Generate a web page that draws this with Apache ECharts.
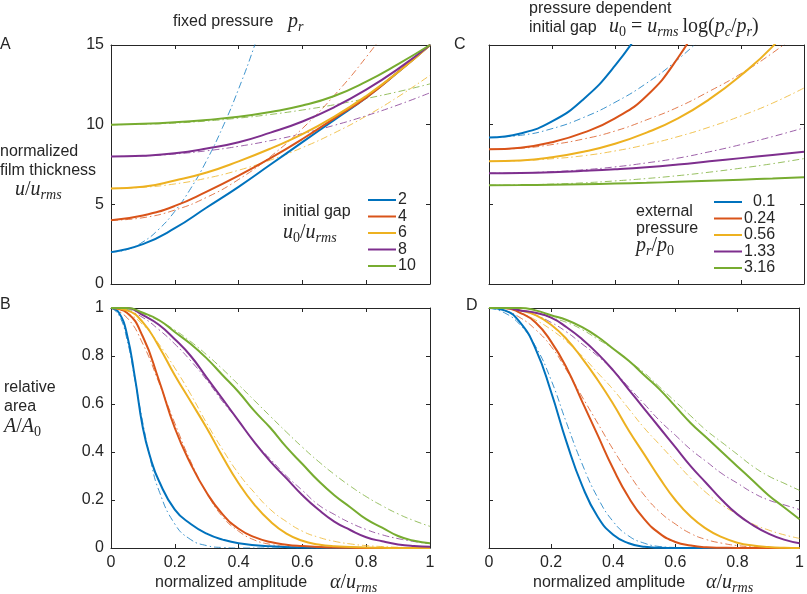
<!DOCTYPE html>
<html><head><meta charset="utf-8">
<script src="https://cdn.jsdelivr.net/npm/echarts@6/dist/echarts.min.js"></script>
<style>html,body{margin:0;padding:0;background:#fff}#c{width:807px;height:594px}</style>
</head><body><div id="c"></div>
<script>
// ---------- data ----------
const alpha10 = [0,0.1,0.2,0.3,0.4,0.5,0.6,0.7,0.8,0.9,1.0];
const alpha20 = [0,0.05,0.1,0.15,0.2,0.25,0.3,0.35,0.4,0.45,0.5,0.55,0.6,0.65,0.7,0.75,0.8,0.85,0.9,0.95,1.0];
const alphaFine = [0,0.025,0.05,0.075,0.1,0.125,0.15,0.2,0.25,0.3,0.35,0.4,0.5,0.6,0.8,1.0];

const gapNames = ['2','4','6','8','10'];
const pressNames = ['0.1','0.24','0.56','1.33','3.16'];

// Panel A: film thickness, fixed pressure (solid)
const uA2  = [2,2.5,3.5,4.8,6.1,7.5,8.9,10.3,11.7,13.3,15];
const uA4  = [4,4.3,4.9,5.8,6.8,7.9,9.1,10.4,11.7,13.3,15];
const uA6  = [6,6.1,6.5,7.0,7.7,8.5,9.4,10.5,11.8,13.3,15];
const uA8  = [8,8.05,8.2,8.5,8.9,9.5,10.2,11.1,12.2,13.5,15];
const uA10 = [10,10.05,10.15,10.3,10.5,10.8,11.2,11.8,12.7,13.8,15];
// Panel A dash-dot
const uA2d  = [2,2.16,2.64,3.44,4.56,6,7.76,9.84,12.24,14.96,18.0]; // on alpha20 (0..0.5)
const uA4d  = [4,4.16,4.64,5.44,6.56,8,9.76,11.84,14.24,16.96,20];
const uA6d  = [6,6.07,6.28,6.64,7.14,7.78,8.56,9.48,10.54,11.75,13.1];
const uA8d  = [8,8.04,8.16,8.36,8.64,9,9.44,9.96,10.56,11.24,12];
const uA10d = [10,10.03,10.1,10.23,10.41,10.64,10.92,11.25,11.64,12.07,12.56];

// Panel B: relative area, fixed pressure
const aB2  = [1,0.98,0.89,0.71,0.5,0.37,0.28,0.16,0.1,0.06,0.035,0.02,0.007,0.002,0,0]; // alphaFine
const aB2d = [1,0.97,0.87,0.7,0.52,0.36,0.24,0.1,0.035,0.01,0.002,0,0,0,0,0];          // alphaFine
const aB4  = [1,0.98,0.88,0.7,0.5,0.35,0.23,0.14,0.08,0.045,0.025,0.014,0.008,0.004,0.002,0.001,0,0,0,0,0];
const aB4d = [1,0.96,0.85,0.69,0.52,0.36,0.23,0.13,0.07,0.033,0.015,0.006,0.002,0,0,0,0,0,0,0,0];
const aB6  = [1,0.99,0.94,0.84,0.72,0.61,0.5,0.38,0.27,0.18,0.11,0.06,0.03,0.015,0.007,0.004,0.002,0.001,0,0,0];
const aB6d = [1,0.98,0.93,0.85,0.75,0.64,0.52,0.41,0.31,0.23,0.16,0.11,0.07,0.045,0.028,0.017,0.01,0.006,0.003,0.002,0.001];
const aB8  = [1,1,0.97,0.93,0.87,0.8,0.71,0.62,0.53,0.44,0.36,0.29,0.22,0.16,0.11,0.075,0.045,0.028,0.015,0.008,0.005];
const aB8d = [1,0.99,0.96,0.91,0.85,0.78,0.7,0.61,0.53,0.44,0.37,0.3,0.24,0.18,0.14,0.105,0.077,0.055,0.039,0.027,0.018];
const aB10 = [1,1,0.98,0.95,0.9,0.85,0.79,0.72,0.65,0.57,0.5,0.42,0.35,0.28,0.22,0.17,0.12,0.085,0.05,0.03,0.02];
const aB10d= [1,0.994,0.976,0.947,0.908,0.86,0.805,0.745,0.68,0.614,0.548,0.483,0.42,0.361,0.307,0.258,0.214,0.176,0.142,0.114,0.09];

// Panel C: film thickness, pressure dependent initial gap
const uC1   = [9.2,9.45,10.2,11.6,13.7,16.5];               // alpha10 (0..0.5)
const uC24  = [8.45,8.55,8.9,9.5,10.4,11.8,14.2,17.5];       // alpha10 (0..0.7)
const uC56  = [7.7,7.75,7.95,8.3,8.8,9.5,10.4,11.6,13.1,14.9,17.2];
const uC133 = [6.95,6.97,7.02,7.1,7.2,7.33,7.5,7.7,7.9,8.1,8.3];
const uC316 = [6.2,6.21,6.23,6.26,6.3,6.35,6.41,6.48,6.55,6.62,6.7];
const uC1d   = [9.2,9.33,9.75,10.45,11.4,12.6,14.1,15.9];     // alpha10 (0..0.7)
const uC24d  = [8.45,8.52,8.75,9.1,9.6,10.3,11.1,12.1,13.2,14.5,16];
const uC56d  = [7.7,7.74,7.86,8.05,8.35,8.75,9.25,9.85,10.55,11.35,12.3];
const uC133d = [6.95,6.98,7.05,7.17,7.35,7.6,7.9,8.3,8.75,9.25,9.8];
const uC316d = [6.2,6.22,6.27,6.35,6.47,6.62,6.8,7.02,7.27,7.55,7.87];

// Panel D: relative area, pressure dependent initial gap (alpha20)
const aD1   = [1,0.99,0.94,0.83,0.65,0.44,0.26,0.13,0.055,0.02,0.005,0.001,0,0,0,0,0,0,0,0,0];
const aD24  = [1,1,0.98,0.94,0.86,0.75,0.61,0.47,0.33,0.21,0.12,0.06,0.025,0.01,0.003,0.001,0,0,0,0,0];
const aD56  = [1,1,0.99,0.97,0.93,0.87,0.79,0.7,0.6,0.49,0.39,0.29,0.2,0.13,0.08,0.045,0.022,0.01,0.004,0.001,0];
const aD133 = [1,1,0.99,0.98,0.96,0.92,0.87,0.81,0.74,0.66,0.58,0.5,0.42,0.34,0.27,0.2,0.14,0.095,0.06,0.035,0.02];
const aD316 = [1,1,1,0.99,0.97,0.95,0.92,0.88,0.83,0.78,0.72,0.66,0.59,0.52,0.46,0.4,0.34,0.28,0.22,0.17,0.12];
const aD1d   = [1,0.98,0.93,0.84,0.7,0.52,0.35,0.21,0.11,0.05,0.02,0.006,0.002,0,0,0,0,0,0,0,0];
const aD24d  = [1,0.99,0.96,0.91,0.84,0.74,0.63,0.52,0.41,0.31,0.22,0.15,0.1,0.06,0.035,0.02,0.01,0.005,0.002,0.001,0];
const aD56d  = [1,1,0.98,0.95,0.91,0.86,0.8,0.73,0.66,0.58,0.5,0.43,0.36,0.29,0.23,0.18,0.14,0.1,0.075,0.055,0.04];
const aD133d = [1,1,0.99,0.97,0.94,0.9,0.85,0.8,0.74,0.67,0.6,0.53,0.47,0.41,0.36,0.31,0.27,0.23,0.2,0.18,0.16];
const aD316d = [1,1,0.99,0.98,0.96,0.94,0.91,0.87,0.83,0.78,0.73,0.67,0.61,0.55,0.49,0.44,0.39,0.34,0.3,0.27,0.24];

// ---------- chart ----------
const COL = ['#0072BD','#D95319','#EDB120','#7E2F8E','#77AC30'];
const SANS = '"Liberation Sans", Arial, Helvetica, sans-serif';
const SERIF = '"Liberation Serif", "Times New Roman", serif';
const INK = '#262626';

const grids = [
  {left:111, top:45, width:319, height:239},
  {left:111, top:308, width:319, height:240},
  {left:489, top:45, width:315, height:239},
  {left:489, top:308, width:315, height:240}
];
const yRange = [[0,15,5],[0,1,0.2],[0,15,5],[0,1,0.2]];
const xAxes = [], yAxes = [];
grids.forEach((g, i) => {
  const showX = (i === 1 || i === 3);
  const showY = (i === 0 || i === 1);
  const base = {gridIndex:i, type:'value', min:0, max:1, interval:0.2,
    axisLine:{show:true, onZero:false, lineStyle:{color:INK, width:1}},
    axisTick:{show:true, inside:true, length:4, lineStyle:{color:INK}},
    splitLine:{show:false}};
  xAxes.push(Object.assign({}, base, {position:'bottom',
    axisLabel:{show:showX, fontSize:16, color:INK, fontFamily:SANS, margin:7}}));
  xAxes.push(Object.assign({}, base, {position:'top', axisLabel:{show:false}}));
  const yb = {gridIndex:i, type:'value', min:yRange[i][0], max:yRange[i][1], interval:yRange[i][2],
    axisLine:{show:true, onZero:false, lineStyle:{color:INK, width:1}},
    axisTick:{show:true, inside:true, length:4, lineStyle:{color:INK}},
    splitLine:{show:false}};
  yAxes.push(Object.assign({}, yb, {position:'left',
    axisLabel:{show:showY, fontSize:16, color:INK, fontFamily:SANS, margin:7}}));
  yAxes.push(Object.assign({}, yb, {position:'right', axisLabel:{show:false}}));
});

function mk(name, xs, ys, gi, ci, dashed) {
  return {
    type:'line', name: name, xAxisIndex: gi*2, yAxisIndex: gi*2,
    data: ys.map((y, k) => [xs[k], y]),
    smooth: 0.5, symbol:'none', showSymbol:false,
    clip: true, silent: true, animation:false,
    lineStyle: dashed ? {color: COL[ci], width: 0.9, type:[7,3,1.5,3], opacity:0.85}
                      : {color: COL[ci], width: 2},
    itemStyle: {color: COL[ci]},
    z: dashed ? 2 : 3
  };
}
const series = [];
// A
series.push(mk('d2', alpha20.slice(0,11), uA2d, 0, 0, true));
series.push(mk('d4', alpha10, uA4d, 0, 1, true));
series.push(mk('d6', alpha10, uA6d, 0, 2, true));
series.push(mk('d8', alpha10, uA8d, 0, 3, true));
series.push(mk('d10', alpha10, uA10d, 0, 4, true));
[uA2,uA4,uA6,uA8,uA10].forEach((d,i)=>series.push(mk(gapNames[i], alpha10, d, 0, i, false)));
// B
series.push(mk('bd2', alphaFine, aB2d, 1, 0, true));
series.push(mk('bd4', alpha20, aB4d, 1, 1, true));
series.push(mk('bd6', alpha20, aB6d, 1, 2, true));
series.push(mk('bd8', alpha20, aB8d, 1, 3, true));
series.push(mk('bd10', alpha20, aB10d, 1, 4, true));
series.push(mk(gapNames[0], alphaFine, aB2, 1, 0, false));
[aB4,aB6,aB8,aB10].forEach((d,i)=>series.push(mk(gapNames[i+1], alpha20, d, 1, i+1, false)));
// C
series.push(mk('cd1', alpha10.slice(0,8), uC1d, 2, 0, true));
series.push(mk('cd24', alpha10, uC24d, 2, 1, true));
series.push(mk('cd56', alpha10, uC56d, 2, 2, true));
series.push(mk('cd133', alpha10, uC133d, 2, 3, true));
series.push(mk('cd316', alpha10, uC316d, 2, 4, true));
series.push(mk(pressNames[0], alpha10.slice(0,6), uC1, 2, 0, false));
series.push(mk(pressNames[1], alpha10.slice(0,8), uC24, 2, 1, false));
series.push(mk(pressNames[2], alpha10, uC56, 2, 2, false));
series.push(mk(pressNames[3], alpha10, uC133, 2, 3, false));
series.push(mk(pressNames[4], alpha10, uC316, 2, 4, false));
// D
[aD1d,aD24d,aD56d,aD133d,aD316d].forEach((d,i)=>series.push(mk('dd'+i, alpha20, d, 3, i, true)));
[aD1,aD24,aD56,aD133,aD316].forEach((d,i)=>series.push(mk(pressNames[i], alpha20, d, 3, i, false)));

// ---------- math-ish text helper ----------
const mctx = document.createElement('canvas').getContext('2d');
function fontStr(style, size, fam){ return (style||'normal') + ' ' + size + 'px ' + fam; }
function measure(t, style, size, fam){ mctx.font = fontStr(style,size,fam); return mctx.measureText(t).width; }
// tokens: [text, kind]; kinds: s=sans, i=italic serif, r=roman serif, b=italic subscript, br=roman subscript
function textRun(x, y, tokens, size) {
  const els = []; let cx = x;
  tokens.forEach(([t, k]) => {
    let st='normal', fam=SANS, sz=size, dy=0;
    if (k==='i') { st='italic'; fam=SERIF; sz=size*1.25; }
    if (k==='r') { fam=SERIF; sz=size*1.25; }
    if (k==='b') { st='italic'; fam=SERIF; sz=size*0.88; dy=size*0.36; }
    if (k==='br') { fam=SERIF; sz=size*0.88; dy=size*0.36; }
    if (k==='gap') { cx += Number(t); return; }
    els.push({type:'text', left: cx, top: y + dy - sz/2, silent:true,
      style:{text:t, fill:INK, font: fontStr(st, sz, fam), textVerticalAlign:'top'}});
    cx += measure(t, st, sz, fam);
  });
  return els;
}
const g = [];
// panel letters
g.push(...textRun(0, 45, [['A','s']], 16));
g.push(...textRun(0, 305, [['B','s']], 16));
g.push(...textRun(454, 45, [['C','s']], 16));
g.push(...textRun(466, 306, [['D','s']], 16));
// titles
g.push(...textRun(173, 22, [['fixed pressure','s']], 16));
g.push(...textRun(288, 22, [['p','i'],['r','b']], 16));
g.push(...textRun(529, 9, [['pressure dependent','s']], 16));
g.push(...textRun(529, 28, [['initial gap','s']], 16));
g.push(...textRun(609, 27, [['u','i'],['0','br'],[' = ','r'],['u','i'],['rms','b'],['\u2009log(','r'],['p','i'],['c','b'],['/','r'],['p','i'],['r','b'],[')','r']], 16));
// y titles
g.push(...textRun(0, 152, [['normalized','s']], 16));
g.push(...textRun(0, 171, [['film thickness','s']], 16));
g.push(...textRun(15, 190, [['u','i'],['/','r'],['u','i'],['rms','b']], 16));
g.push(...textRun(4, 388, [['relative','s']], 16));
g.push(...textRun(4, 407, [['area','s']], 16));
g.push(...textRun(4, 427, [['A','i'],['/','r'],['A','i'],['0','br']], 16));
// x titles
g.push(...textRun(155, 583, [['normalized amplitude','s']], 16));
g.push(...textRun(330, 583, [['α','i'],['/','r'],['u','i'],['rms','b']], 16));
g.push(...textRun(533, 583, [['normalized amplitude','s']], 16));
g.push(...textRun(706, 583, [['α','i'],['/','r'],['u','i'],['rms','b']], 16));
// legend titles
g.push(...textRun(283, 212, [['initial gap','s']], 16));
g.push(...textRun(283, 233, [['u','i'],['0','br'],['/','r'],['u','i'],['rms','b']], 16));
g.push(...textRun(636, 212, [['external','s']], 16));
g.push(...textRun(636, 229, [['pressure','s']], 16));
g.push(...textRun(636, 246, [['p','i'],['r','b'],['/','r'],['p','i'],['0','br']], 16));

const legendBase = {orient:'vertical', icon:'rect', itemWidth:28, itemHeight:2, itemGap:0.5, padding:0,
  selectedMode:false, textStyle:{fontSize:16, color:INK, fontFamily:SANS, lineHeight:16, padding:[0,0,0,-3]}};

const chart = echarts.init(document.getElementById('c'), null, {renderer:'canvas'});
chart.setOption({
  animation:false,
  backgroundColor:'#fff',
  grid: grids,
  xAxis: xAxes,
  yAxis: yAxes,
  legend: [
    Object.assign({}, legendBase, {data: gapNames, left:368, top:192}),
    Object.assign({}, legendBase, {data: pressNames, left:714, top:194,
      formatter: n => n === '0.1' ? '  0.1' : n})
  ],
  series: series,
  graphic: g
});
</script></body></html>
